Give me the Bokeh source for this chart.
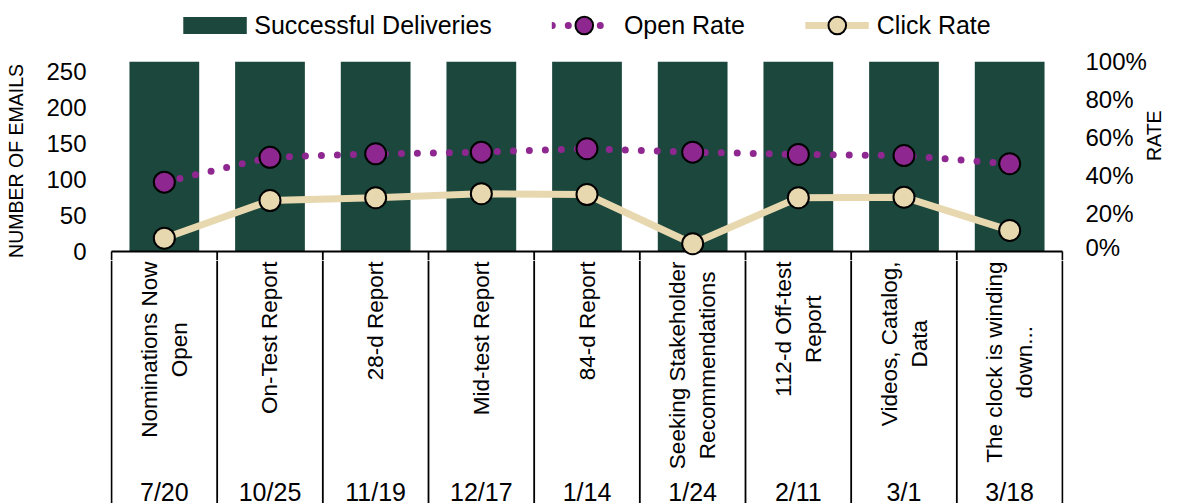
import math
from bokeh.plotting import figure
from bokeh.layouts import column
from bokeh.models import (Range1d, LinearAxis, FixedTicker,
                          NumeralTickFormatter, Legend, LegendItem, ColumnDataSource)
from bokeh.core.properties import value
from bokeh.embed import file_html
from bokeh.resources import INLINE

# ---------------- data ----------------
emails = ["Nominations Now\nOpen", "On-Test Report", "28-d Report", "Mid-test Report",
          "84-d Report", "Seeking Stakeholder\nRecommendations", "112-d Off-test\nReport",
          "Videos, Catalog,\nData", "The clock is winding\ndown..."]
dates = ["7/20", "10/25", "11/19", "12/17", "1/14", "1/24", "2/11", "3/1", "3/18"]
deliveries = [270, 270, 270, 270, 270, 270, 270, 270, 270]
open_rate = [0.365, 0.496, 0.514, 0.523, 0.541, 0.523, 0.511, 0.505, 0.462]
click_rate = [0.070, 0.268, 0.283, 0.304, 0.300, 0.041, 0.283, 0.286, 0.111]
left_ticks = [0, 50, 100, 150, 200, 250]
rate_ticks = [0, 0.2, 0.4, 0.6, 0.8, 1.0]
left_max = 264
rate_max = 1.0

# ---------------- style / layout ----------------
GREEN = "#1B473D"
PURPLE = "#8E278F"
BEIGE = "#E8D8B0"
FONT = "Liberation Sans"

W = 1178
BL, BR = 110, 113          # borders (frame spans 110..1065 incl. 1px pad each side)
LEG_H = 47                 # legend strip
TOP_PAD = 14               # room for the "100%" label above the frame
AXIS_PX = 190              # height of the 0..max part of the chart
BELOW_PX = 9               # part of the chart frame under the zero line
CH_H = TOP_PAD + AXIS_PX + BELOW_PX
TAB_H = 503 - LEG_H - CH_H
n = len(emails)
px_per_cat = (W - BL - BR - 2) / n
pad = 1.0 / px_per_cat

# category slots: slot i spans [i, i+1], its centre is i + 0.5
centers = [i + 0.5 for i in range(n)]
bounds = list(range(n + 1))

src = ColumnDataSource(dict(x=centers, email=emails, date=dates, deliveries=deliveries,
                            open_rate=open_rate, click_rate=click_rate))


def base_fig(h, xr, yr, top=0):
    f = figure(width=W, height=h, x_range=xr, y_range=yr,
               x_axis_location=None, y_axis_location=None,
               output_backend="svg", toolbar_location=None,
               min_border_left=BL, min_border_right=BR, min_border_top=top,
               min_border_bottom=0, outline_line_color=None,
               background_fill_color="white", border_fill_color="white")
    f.grid.visible = False
    return f


# ---------------- chart ----------------
left_min = -BELOW_PX * left_max / AXIS_PX
rate_min = -BELOW_PX * rate_max / AXIS_PX
p = base_fig(CH_H, Range1d(bounds[0] - pad, bounds[-1] + pad), Range1d(left_min, left_max),
             top=TOP_PAD)
p.extra_y_ranges = {"rate": Range1d(rate_min, rate_max)}

lax = LinearAxis(ticker=FixedTicker(ticks=left_ticks), axis_label="NUMBER OF EMAILS")
rax = LinearAxis(y_range_name="rate", ticker=FixedTicker(ticks=rate_ticks),
                 formatter=NumeralTickFormatter(format="0%"), axis_label="RATE")
for ax, so, lso in ((lax, 24, 16), (rax, 22, 4)):
    ax.axis_line_color = None
    ax.major_tick_line_color = None
    ax.minor_tick_line_color = None
    ax.major_tick_out = 0
    ax.major_tick_in = 0
    ax.major_label_standoff = so
    ax.major_label_text_font = FONT
    ax.major_label_text_font_size = "24px"
    ax.major_label_text_color = "black"
    ax.axis_label_standoff = lso
    ax.axis_label_text_font = FONT
    ax.axis_label_text_font_size = "19.5px"
    ax.axis_label_text_font_style = "normal"
    ax.axis_label_text_color = "black"
try:
    rax.axis_label_orientation = math.pi / 2
except Exception:
    pass
p.add_layout(lax, "left")
p.add_layout(rax, "right")

p.vbar(x="x", top="deliveries", width=0.66, source=src,
       fill_color=GREEN, line_color=None)
# zero line and the start of the label-table separators
p.segment(x0=[bounds[0]], y0=[0], x1=[bounds[-1]], y1=[0], line_color="black", line_width=1.8)
p.segment(x0=bounds, y0=[0] * len(bounds), x1=bounds, y1=[left_min] * len(bounds),
          line_color="black", line_width=1.8)

line_kw = dict(source=src, y_range_name="rate")
p.line(x="x", y="click_rate", line_color=BEIGE, line_width=7, line_join="round", **line_kw)
p.line(x="x", y="open_rate", line_color=PURPLE, line_width=7, line_dash="0 16",
       line_cap="round", **line_kw)
p.scatter(x="x", y="open_rate", size=21, fill_color=PURPLE, line_color="black",
          line_width=2, **line_kw)
p.scatter(x="x", y="click_rate", size=21, fill_color=BEIGE, line_color="black",
          line_width=2, **line_kw)

# ---------------- legend strip ----------------
g = figure(width=W, height=LEG_H, x_range=Range1d(bounds[0], bounds[-1]),
           y_range=Range1d(0, 1), x_axis_location=None, y_axis_location=None,
           output_backend="svg", toolbar_location=None,
           min_border_left=0, min_border_right=0, min_border_top=0, min_border_bottom=0,
           outline_line_color=None, background_fill_color="white",
           border_fill_color="white")
g.grid.visible = False
g.extra_y_ranges = {"rate": Range1d(0, rate_max), "cnt": Range1d(0, left_max)}
lg_sw = g.line(x="x", y="deliveries", source=src, y_range_name="cnt",
               line_color=GREEN, line_width=17, visible=False)
lg_ol = g.line(x="x", y="open_rate", line_color=PURPLE, line_width=7, line_dash="0 16",
               line_cap="round", visible=False, **line_kw)
lg_op = g.scatter(x="x", y="open_rate", size=21, fill_color=PURPLE, line_color="black",
                  line_width=2, visible=False, **line_kw)
lg_cl = g.line(x="x", y="click_rate", line_color=BEIGE, line_width=7, visible=False, **line_kw)
lg_cp = g.scatter(x="x", y="click_rate", size=21, fill_color=BEIGE, line_color="black",
                  line_width=2, visible=False, **line_kw)
legend = Legend(items=[LegendItem(label="Successful Deliveries", renderers=[lg_sw]),
                       LegendItem(label="Open Rate", renderers=[lg_ol, lg_op]),
                       LegendItem(label="Click Rate", renderers=[lg_cl, lg_cp])],
                location="bottom_center", orientation="horizontal",
                glyph_width=64, glyph_height=44, spacing=60, label_standoff=8,
                padding=0, margin=0, border_line_color=None, background_fill_alpha=0,
                inactive_fill_alpha=0,
                label_text_font=FONT, label_text_font_size="25px",
                label_text_color="black", label_text_baseline="middle")
g.add_layout(legend)

# ---------------- label table ----------------
t = base_fig(TAB_H, Range1d(bounds[0] - pad, bounds[-1] + pad), Range1d(0, TAB_H))
t.segment(x0=bounds, y0=[0] * len(bounds), x1=bounds, y1=[TAB_H] * len(bounds),
          line_color="black", line_width=1.8)
t.text(x="x", y=value(TAB_H - 1), text="email", source=src,
       angle=math.pi / 2, anchor=value("center_right"), text_align="center",
       text_baseline="middle", text_font=value(FONT), text_font_size="22.5px",
       text_color="black", text_line_height=1.2)
t.text(x="x", y=value(12), text="date", source=src,
       text_align="center", text_baseline="middle", text_font=value(FONT),
       text_font_size="25px", text_color="black")

layout = column(g, p, t, spacing=0)
open("out.html", "w").write(file_html(layout, INLINE))
